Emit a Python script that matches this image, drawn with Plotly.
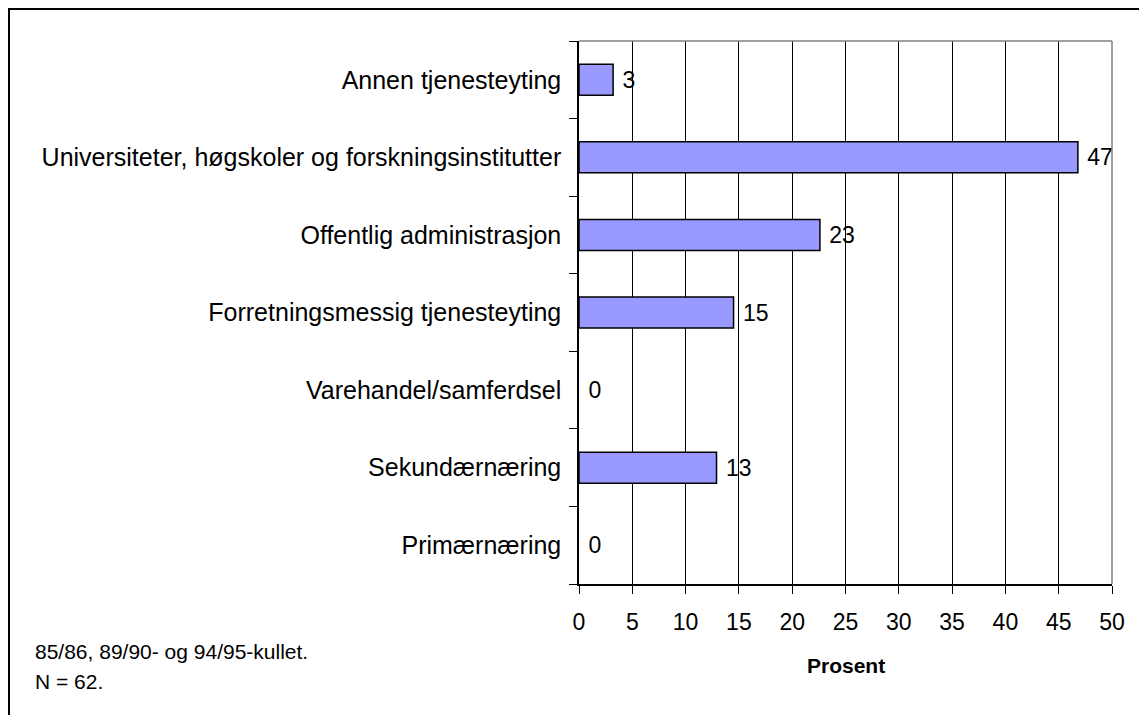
import plotly.graph_objects as go

categories = [
    "Primærnæring",
    "Sekundærnæring",
    "Varehandel/samferdsel",
    "Forretningsmessig tjenesteyting",
    "Offentlig administrasjon",
    "Universiteter, høgskoler og forskningsinstitutter",
    "Annen tjenesteyting",
]
values = [0, 12.9, 0, 14.5, 22.6, 46.8, 3.2]
x_ticks = [0, 5, 10, 15, 20, 25, 30, 35, 40, 45, 50]

FONT = "Liberation Sans, Arial"
OFF = 8  # browser body margin
W, H = 1147 - OFF, 715 - OFF
L, R, T, B = 579 - OFF, 1112 - OFF, 41 - OFF, 584 - OFF


def label(v):
    return " " + str(int(v + 0.5))


fig = go.Figure()
fig.add_trace(go.Bar(
    y=categories, x=values, orientation="h",
    marker=dict(color="#9999FF",
                line=dict(color="black", width=[1.5 if v > 0 else 0 for v in values])),
    text=[label(v) for v in values], textposition="outside",
    textfont=dict(family=FONT, size=23, color="black"),
    cliponaxis=False, width=0.4,
))


def px2x(p):
    return (p - OFF - L) / (R - L)


def py2y(p):
    return (B - (p - OFF)) / (B - T)


fig.add_shape(type="rect", xref="paper", yref="paper",
              x0=px2x(9), x1=px2x(1160), y0=py2y(780), y1=py2y(9),
              line=dict(color="black", width=2), layer="below")
fig.add_shape(type="line", xref="paper", yref="paper",
              x0=0, x1=1, y0=1, y1=1, line=dict(color="#808080", width=1.5))
fig.add_shape(type="line", xref="paper", yref="paper",
              x0=1, x1=1, y0=0, y1=1, line=dict(color="#808080", width=1.5))

fig.add_annotation(xref="paper", yref="paper", x=px2x(33), y=py2y(651),
                   text="85/86, 89/90- og 94/95-kullet.", showarrow=False,
                   xanchor="left", yanchor="middle",
                   font=dict(family=FONT, size=21, color="black"))
fig.add_annotation(xref="paper", yref="paper", x=px2x(33), y=py2y(681),
                   text="N = 62.", showarrow=False,
                   xanchor="left", yanchor="middle",
                   font=dict(family=FONT, size=21, color="black"))
fig.add_annotation(xref="paper", yref="paper", x=0.5, y=py2y(665),
                   text="<b>Prosent</b>", showarrow=False,
                   xanchor="center", yanchor="middle",
                   font=dict(family=FONT, size=21, color="black"))

fig.update_layout(
    width=W, height=H,
    margin=dict(l=L, r=W - R, t=T, b=H - B, pad=0),
    paper_bgcolor="white", plot_bgcolor="white",
    showlegend=False,
    font=dict(family=FONT, size=23, color="black"),
)
fig.update_xaxes(
    range=[0, 50], tickvals=x_ticks, showgrid=True, gridcolor="black", gridwidth=1,
    ticks="outside", ticklen=8, tickcolor="black", showline=True, linecolor="black",
    linewidth=1.5, zeroline=False, tickfont=dict(size=23), ticklabelstandoff=9,
)
fig.update_yaxes(
    categoryorder="array", categoryarray=categories,
    ticks="outside", tickson="boundaries", ticklen=8, tickcolor="black",
    showline=True, linecolor="black", linewidth=1.5, showgrid=False,
    tickfont=dict(size=25), ticklabelstandoff=11,
)

fig.write_html("out.html")
